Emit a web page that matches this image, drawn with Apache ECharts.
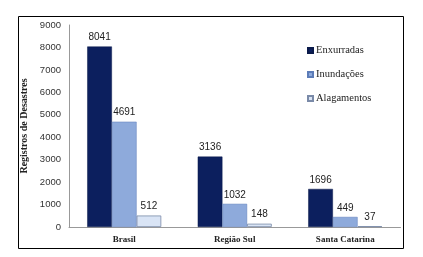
<!DOCTYPE html>
<html><head><meta charset="utf-8">
<script src="https://cdn.jsdelivr.net/npm/echarts@6/dist/echarts.min.js"></script>
<style>html,body{margin:0;padding:0;background:#fff}#c{width:423px;height:257px}</style>
</head><body><div id="c"></div>
<script>
const categories = ['Brasil', 'Região Sul', 'Santa Catarina'];
const enxurradas = [8041, 3136, 1696];
const inundacoes = [4691, 1032, 449];
const alagamentos = [512, 148, 37];
const seriesNames = ['Enxurradas', 'Inundações', 'Alagamentos'];
const yTicks = [0, 1000, 2000, 3000, 4000, 5000, 6000, 7000, 8000, 9000];

const chart = echarts.init(document.getElementById('c'), null, {renderer: 'canvas'});
const colors = ['#0c1f5e', '#8eaadb', '#d9e4f5'];
const lbl = {show: true, position: 'top', distance: 4, fontFamily: 'Liberation Sans, Arial', fontSize: 10, color: '#222'};
chart.setOption({
  animation: false,
  graphic: [{type: 'rect', shape: {x: 18.5, y: 16.5, width: 385, height: 232}, style: {fill: 'none', stroke: '#000', lineWidth: 1}, z: 100}],
  grid: {left: 69, right: 22.5, top: 25, bottom: 30},
  legend: {
    orient: 'vertical', left: 302, top: 40, itemWidth: 5, itemHeight: 5, itemGap: 13,
    icon: 'rect', data: seriesNames,
    textStyle: {fontFamily: 'Liberation Serif, Times New Roman', fontSize: 10.5, color: '#222', padding: [0, 0, 0, -2]}
  },
  xAxis: {
    type: 'category', data: categories,
    axisLine: {lineStyle: {color: '#999'}}, axisTick: {show: false},
    axisLabel: {fontFamily: 'Liberation Serif, Times New Roman', fontWeight: 'bold', fontSize: 9, color: '#222', margin: 8}
  },
  yAxis: {
    type: 'value', min: yTicks[0], max: yTicks[yTicks.length - 1], interval: 1000,
    name: 'Registros de Desastres', nameLocation: 'middle', nameGap: 36, nameRotate: 90,
    nameTextStyle: {fontFamily: 'Liberation Serif, Times New Roman', fontWeight: 'bold', fontSize: 10, color: '#222'},
    axisLine: {show: true, lineStyle: {color: '#999'}}, axisTick: {show: false}, splitLine: {show: false},
    axisLabel: {fontFamily: 'Liberation Sans, Arial', fontSize: 9.5, color: '#333', margin: 8, formatter: v => String(v)}
  },
  series: [
    {name: seriesNames[0], type: 'bar', data: enxurradas, barGap: '0%', barCategoryGap: '33%',
     itemStyle: {color: colors[0], borderColor: '#0a1a4a', borderWidth: 0.5}, label: lbl},
    {name: seriesNames[1], type: 'bar', data: inundacoes,
     itemStyle: {color: colors[1], borderColor: '#5c7cb8', borderWidth: 0.5}, label: lbl},
    {name: seriesNames[2], type: 'bar', data: alagamentos,
     itemStyle: {color: colors[2], borderColor: '#7a8aa8', borderWidth: 0.8}, label: lbl}
  ]
});
</script></body></html>
